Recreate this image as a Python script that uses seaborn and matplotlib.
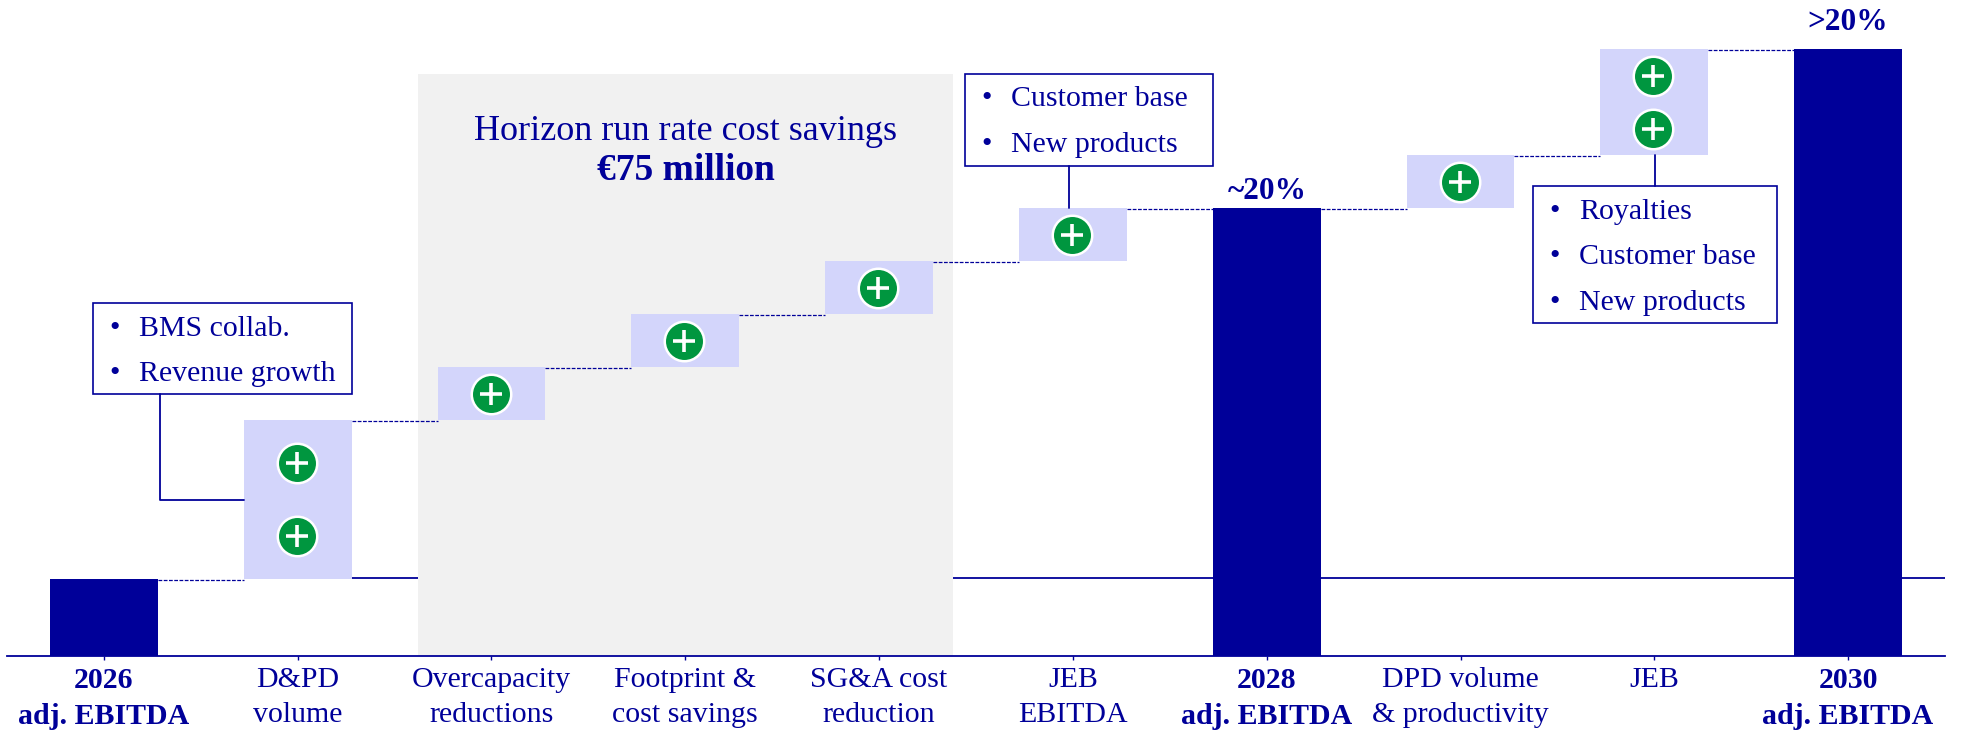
import matplotlib
matplotlib.use("Agg")
import matplotlib.pyplot as plt
from matplotlib.lines import Line2D
from matplotlib.patches import Rectangle
import pandas as pd
import seaborn as sns

# data
categories = ["2026\nadj. EBITDA", "D&PD\nvolume", "Overcapacity\nreductions", "Footprint &\ncost savings",
              "SG&A cost\nreduction", "JEB\nEBITDA", "2028\nadj. EBITDA", "DPD volume\n& productivity",
              "JEB", "2030\nadj. EBITDA"]
totals = [1.45, 0, 0, 0, 0, 0, 8.45, 0, 0, 11.45]
step_base = [0, 1.45, 4.45, 5.45, 6.45, 7.45, 0, 8.45, 9.45, 0]
step_size = [0, 3, 1, 1, 1, 1, 0, 1, 2, 0]
plus_count = [0, 2, 1, 1, 1, 1, 0, 1, 2, 0]
bold_labels = [True, False, False, False, False, False, True, False, False, True]
top_labels = {6: "~20%", 9: ">20%"}
callout_1 = ["BMS collab.", "Revenue growth"]
callout_2 = ["Customer base", "New products"]
callout_3 = ["Royalties", "Customer base", "New products"]
panel_title = "Horizon run rate cost savings"
panel_value = "€75 million"
reference_level = 1.48

NAVY = "#000099"
LIGHT = "#D3D5FB"
GREEN = "#00963F"
GREY = "#F1F1F1"
W, H = 1980, 733
BAR_WIDTH = 0.557

sns.set_theme(style="white")
plt.rcParams["font.family"] = ["Liberation Serif", "DejaVu Serif"]
FS = 21.5

df = pd.DataFrame({"category": categories, "total": totals, "base": step_base, "step": step_size})

fig = plt.figure(figsize=(W / 100, H / 100), dpi=100)
ax = fig.add_axes([7 / W, (H - 656) / H, 1938 / W, 656 / H])


def fx(px):
    return px / W


def fy(py):
    return 1 - py / H


# grey panel and reference line sit behind everything
ax.axvspan(1.62, 4.38, ymin=0, ymax=582 / 656, color=GREY, lw=0, zorder=0.5)
ax.hlines(reference_level, 1, 9.5, color=NAVY, lw=1.3, zorder=0.2)
ax.set_facecolor("none")

sns.barplot(data=df, x="category", y="step", bottom=df["base"].values, color=LIGHT, saturation=1,
            width=BAR_WIDTH, errorbar=None, ax=ax, zorder=2, linewidth=0)
sns.barplot(data=df, x="category", y="total", color=NAVY, saturation=1,
            width=BAR_WIDTH, errorbar=None, ax=ax, zorder=2, linewidth=0)

ax.set_xlim(-0.5, 9.5)
ax.set_ylim(0, 656 / 53)

# dashed connectors between the bars
tops = [t if t else b + s for t, b, s in zip(totals, step_base, step_size)]
for i in range(len(tops) - 1):
    ax.plot([i + BAR_WIDTH / 2, i + 1 - BAR_WIDTH / 2], [tops[i] - 0.02, tops[i] - 0.02], color=NAVY,
            lw=0.9, ls=(0, (3, 1.2)), zorder=1.5)

# plus signs
for i, n in enumerate(plus_count):
    if n == 0:
        continue
    fracs = [0.5] if n == 1 else ([0.27, 0.73] if i == 1 else [0.25, 0.75])
    for f in fracs:
        y = step_base[i] + step_size[i] * f
        ax.scatter(i - 0.005, y, s=808, color=GREEN, edgecolor="white", linewidth=1.8, zorder=3)
        ax.scatter(i - 0.005, y, s=250, marker="+", color="white", linewidth=2.6, zorder=4)

for i, label in top_labels.items():
    ax.text(i, totals[i] + (0.23 if i == 9 else 0.04), label, ha="center", va="bottom", color=NAVY,
            fontsize=FS + 1, fontweight="bold")

# axis
for side in ["top", "left", "right"]:
    ax.spines[side].set_visible(False)
ax.spines["bottom"].set_color(NAVY)
ax.spines["bottom"].set_linewidth(1.3)
ax.set_xlabel("")
ax.set_ylabel("")
ax.set_yticks([])
ax.set_xticks(range(len(categories)))
ax.set_xticklabels(categories, fontsize=FS, color=NAVY, linespacing=1.42)
ax.tick_params(axis="x", bottom=True, length=3, width=1, color=NAVY, pad=5)
for tick, is_bold in zip(ax.get_xticklabels(), bold_labels):
    if is_bold:
        tick.set_fontweight("bold")

# panel title
fig.text(fx(686), fy(132), panel_title, ha="center", va="center", color=NAVY, fontsize=FS + 4.5)
fig.text(fx(686), fy(170), panel_value, ha="center", va="center", color=NAVY, fontsize=FS + 5.5, fontweight="bold")


# callouts
def callout(items, left, right, top, bottom, bullet_x, text_x, ys, line):
    fig.add_artist(Rectangle((fx(left), fy(bottom)), fx(right - left), (bottom - top) / H, fc="white", ec=NAVY,
                             lw=1.2, transform=fig.transFigure, zorder=5))
    fig.add_artist(Line2D([fx(p[0]) for p in line], [fy(p[1]) for p in line], color=NAVY, lw=1.3, zorder=5))
    for item, y in zip(items, ys):
        fig.text(fx(bullet_x), fy(y + 2), "•", ha="center", va="center", color=NAVY, fontsize=FS, zorder=6)
        fig.text(fx(text_x), fy(y + 2), item, ha="left", va="center", color=NAVY, fontsize=FS, zorder=6)


callout(callout_1, 93, 352, 303, 394, 115, 139, [327, 372], [(160, 394), (160, 500), (244, 500)])
callout(callout_2, 965, 1213, 74, 166, 987, 1011, [97, 143], [(1069, 166), (1069, 208)])
callout(callout_3, 1533, 1777, 186, 323, 1555, 1579, [210, 255, 301], [(1655, 155), (1655, 186)])

fig.savefig("out.png", dpi=100)
